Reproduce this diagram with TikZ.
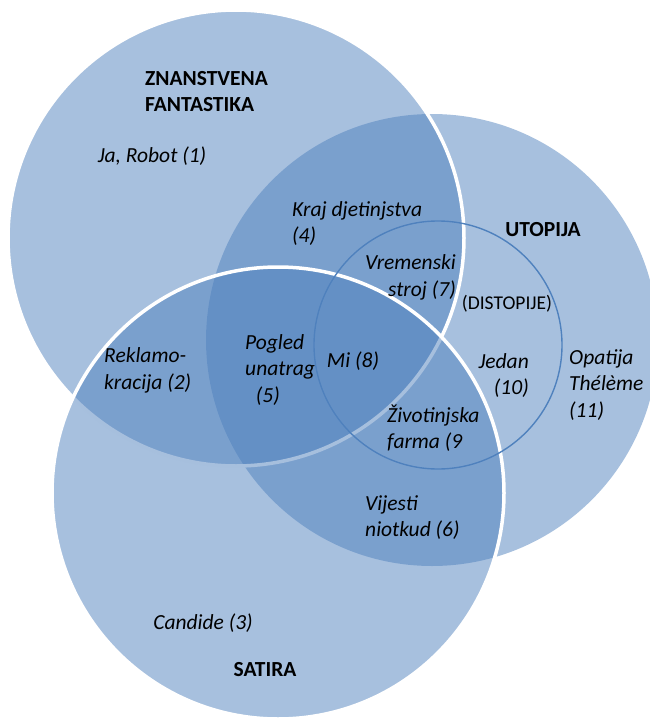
\documentclass[tikz,border=0pt]{standalone}
\usepackage{fontspec}
\setmainfont{Carlito}
\usepackage{xcolor}
\definecolor{vennblue}{HTML}{4F81BD}
\newcommand\vennsize{\fontsize{21.5}{26.5}\selectfont}
\usepackage{tikz}
\tikzset{
    x=1pt, y=-1pt,
    vennset/.style = {circle, inner sep=0pt, fill=vennblue, fill opacity=0.5, text opacity=1},
    rim/.style = {draw=white, line width=3.5pt},
    subset/.style = {circle, inner sep=0pt, draw=vennblue, line width=1.4pt},
    book/.style = {inner sep=0pt, align=left, font=\vennsize\itshape},
    genre/.style = {inner sep=0pt, align=left, font=\vennsize\bfseries},
    plain/.style = {inner sep=0pt, font=\fontsize{19.5}{24}\selectfont}
}

\begin{document}
\begin{tikzpicture}
      \useasboundingbox (0,0) rectangle (650,720);

      % the three sets
      \node[vennset, minimum size=452] (utopija) at (432,340) {};
      \node[vennset, rim, minimum size=456] (sf) at (236,238) {};
      \node[vennset, rim, minimum size=452] (satira) at (278,493) {};
      \node[subset, minimum size=248] (distopije) at (438,345) {};

      % set names
      \node[genre, anchor=west] (sfName) at (145,91.5) {ZNANSTVENA\\FANTASTIKA};
      \node[genre] (utName) at (543,230) {UTOPIJA};
      \node[genre] (saName) at (265,670) {SATIRA};
      \node[plain] (diName) at (507,304) {(DISTOPIJE)};

      % books
      \node[book] (robot) at (152,156) {Ja, Robot (1)};
      \node[book, anchor=west] (kraj) at (292,223.5) {Kraj djetinjstva\\(4)};
      \node[book, anchor=east, align=right] (stroj) at (456,277.5) {Vremenski\\stroj (7)};
      \node[book, anchor=west] (reklamo) at (104,370.5) {Reklamo-\\kracija (2)};
      \node[book, anchor=west] (pogled) at (245,370) {Pogled\\unatrag\\\hspace*{0.5em}(5)};
      \node[book] (mi) at (353,361) {Mi (8)};
      \node[book, anchor=east, align=right] (jedan) at (529,375.5) {Jedan\\(10)};
      \node[book, anchor=west] (opatija) at (569,385) {Opatija\\Thélème\\(11)};
      \node[book, anchor=west] (farma) at (387,428) {Životinjska\\farma (9};
      \node[book, anchor=west] (vijesti) at (365,517.5) {Vijesti\\niotkud (6)};
      \node[book] (candide) at (203,623) {Candide (3)};
\end{tikzpicture}
\end{document}
